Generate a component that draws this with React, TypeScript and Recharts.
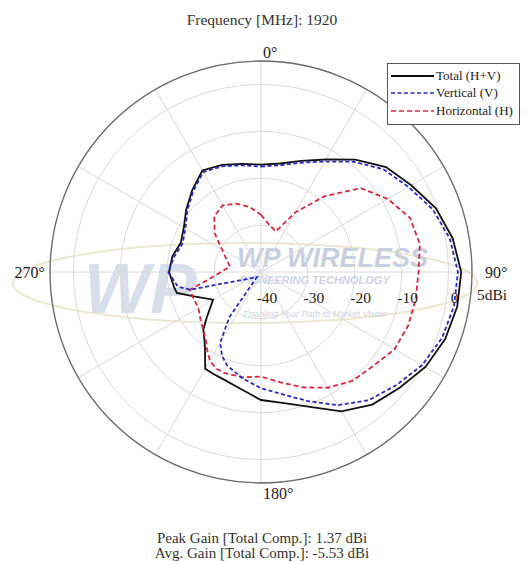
import React from "react";
import { Legend, PolarAngleAxis, PolarGrid, PolarRadiusAxis, Radar, RadarChart } from "recharts";

// angle in degrees, clockwise from top (0°)
const ANGLES = [0, 10, 20, 30, 40, 50, 60, 70, 80, 90, 100, 110, 120, 130, 140, 150, 160, 170, 180, 190, 200, 205, 210, 215, 219, 225, 230, 240, 250, 256, 260, 270, 280, 290, 300, 310, 320, 330, 340, 350];

// gain in dBi
const TOTAL = [-17.1, -16.5, -14.8, -12.3, -8.7, -5.2, -3.0, -0.3, 1.5, 2.7, 2.5, 1.8, 0.5, -1.5, -3.1, -5.7, -9.4, -11.6, -12.7, -14.7, -15.8, -16.0, -16.2, -19.2, -20.9, -22.6, -24.9, -28.2, -24.8, -21.5, -21.2, -20.4, -20.8, -21.8, -21.0, -19.2, -17.2, -15.0, -15.7, -16.6];
const VERTICAL = [-17.5, -16.9, -15.2, -12.8, -9.3, -5.9, -3.7, -1.0, 0.9, 2.0, 1.8, 1.1, -0.3, -2.4, -4.3, -7.2, -10.7, -13.5, -15.2, -17.0, -18.8, -20.3, -22.6, -28.2, -38.6, -38.4, -38.2, -37.3, -34.4, -24.4, -22.0, -20.2, -21.2, -22.2, -21.4, -19.5, -17.5, -15.4, -16.0, -16.9];
const HORIZONTAL = [-27.8, -29.8, -30.8, -25.3, -18.9, -12.2, -8.8, -6.2, -5.6, -6.4, -6.5, -6.6, -7.1, -8.8, -9.7, -11.5, -13.8, -16.1, -17.7, -17.2, -17.1, -17.3, -18.2, -19.9, -21.3, -22.6, -23.3, -24.6, -24.5, -24.4, -27.6, -31.5, -33.3, -32.2, -30.4, -27.1, -24.5, -23.6, -24.5, -25.9];

const RADIUS_TICKS = [-40, -30, -20, -10, 0, 5];
const ANGLE_TICKS = [0, 90, 180, 270];
const SPOKES = [0, 30, 60, 90, 120, 150, 180, 210, 240, 270, 300, 330];

const data = ANGLES.map((angle, i) => ({
  angle,
  total: TOTAL[i],
  vertical: VERTICAL[i],
  horizontal: HORIZONTAL[i],
}));

const series = [
  { key: "total", name: "Total (H+V)", color: "#111111", dash: undefined },
  { key: "vertical", name: "Vertical (V)", color: "#2a2ac0", dash: "4 2.5" },
  { key: "horizontal", name: "Horizontal (H)", color: "#d9283c", dash: "5 3" },
];

const FONT = '"Liberation Serif", "Times New Roman", serif';
const SANS = '"Liberation Sans", Arial, sans-serif';
const CX = 261;
const CY = 272;

function AngleTick(props: any) {
  const { x, y, payload } = props;
  const v = payload.value;
  const pos: Record<number, { dx: number; dy: number; anchor: string }> = {
    0: { dx: 2, dy: 5, anchor: "start" },
    90: { dx: 5, dy: 6, anchor: "start" },
    180: { dx: 2, dy: 8, anchor: "start" },
    270: { dx: 3, dy: 6, anchor: "end" },
  };
  const p = pos[v] ?? { dx: 0, dy: 0, anchor: "middle" };
  return (
    <text x={x + p.dx} y={y + p.dy} textAnchor={p.anchor} fontFamily={FONT} fontSize={16} fill="#222">
      {v}°
    </text>
  );
}

function RadiusTick(props: any) {
  const { x, y, payload } = props;
  const v = payload.value;
  if (v === 5) {
    return (
      <text x={x + 5} y={y + 28} textAnchor="start" fontFamily={FONT} fontSize={15.5} fill="#222">
        5dBi
      </text>
    );
  }
  return (
    <text x={x + 6} y={y + 31} textAnchor="middle" fontFamily={FONT} fontSize={15.5} fill="#222">
      {v}
    </text>
  );
}

function LegendBox() {
  return (
    <div
      style={{
        width: 133,
        height: 62,
        border: "1px solid #555",
        background: "#fff",
        fontFamily: FONT,
        fontSize: 13,
        color: "#222",
        boxSizing: "border-box",
        paddingTop: 3,
      }}
    >
      {series.map((s) => (
        <div key={s.key} style={{ display: "flex", alignItems: "center", height: 17.5 }}>
          <svg width={46} height={10} style={{ marginLeft: 2 }}>
            <line x1={1} y1={5} x2={44} y2={5} stroke={s.color} strokeWidth={s.dash ? 1.4 : 1.8} strokeDasharray={s.dash} />
          </svg>
          <span>{s.name}</span>
        </div>
      ))}
    </div>
  );
}

function Watermark() {
  return (
    <svg width={531} height={562} style={{ position: "absolute", left: 0, top: 0 }}>
      <ellipse cx={245} cy={283} rx={232} ry={40} fill="none" stroke="#eee8d2" strokeWidth={2} />
      <text x={84} y={313} fontFamily={SANS} fontWeight="bold" fontStyle="italic" fontSize={70} fill="#d8dfeb">
        WP
      </text>
      <text x={237} y={267} fontFamily={SANS} fontWeight="bold" fontStyle="italic" fontSize={27} fill="#c8d0e0">
        WP WIRELESS
      </text>
      <text x={240} y={284} fontFamily={SANS} fontWeight="bold" fontStyle="italic" fontSize={11} fill="#cdd4e2">
        PIONEERING TECHNOLOGY
      </text>
      <text x={243} y={317} fontFamily={SANS} fontStyle="italic" fontSize={9} fill="#cdd4e2">
        Enabling Your Path to Market Vision
      </text>
    </svg>
  );
}

export default function App() {
  return (
    <div style={{ position: "absolute", left: 0, top: 0, width: 531, height: 562, background: "#fff", overflow: "hidden" }}>
      <Watermark />
      <div style={{ position: "absolute", left: 0, top: 0 }}>
        <RadarChart width={531} height={562} data={data} cx={CX} cy={CY} outerRadius={211} margin={{ top: 0, right: 0, bottom: 0, left: 0 }}>
          <PolarGrid gridType="circle" polarAngles={SPOKES} stroke="#dadada" strokeWidth={1} />
          <PolarAngleAxis
            dataKey="angle"
            type="number"
            domain={[0, 360]}
            ticks={ANGLE_TICKS}
            axisLineType="circle"
            axisLine={{ stroke: "#6a6a6a", strokeWidth: 1.3 }}
            tickLine={false}
            tick={AngleTick}
          />
          <PolarRadiusAxis angle={0} domain={[-40, 5]} ticks={RADIUS_TICKS} axisLine={false} tick={RadiusTick} />
          <Radar dataKey="total" name="Total (H+V)" stroke="#111111" strokeWidth={1.8} fill="none" fillOpacity={0} dot={false} isAnimationActive={false} />
          <Radar dataKey="horizontal" name="Horizontal (H)" stroke="#d9283c" strokeWidth={1.8} strokeDasharray="5 3" fill="none" fillOpacity={0} dot={false} isAnimationActive={false} />
          <Radar dataKey="vertical" name="Vertical (V)" stroke="#2a2ac0" strokeWidth={1.8} strokeDasharray="4 2.5" fill="none" fillOpacity={0} dot={false} isAnimationActive={false} />
          <Legend content={() => <LegendBox />} wrapperStyle={{ position: "absolute", left: 387, top: 63, width: 133, height: 62 }} />
        </RadarChart>
      </div>
      <div style={{ position: "absolute", left: 0, top: 11, width: 524, textAlign: "center", fontFamily: FONT, fontSize: 15.5, color: "#333" }}>
        Frequency [MHz]: 1920
      </div>
      <div style={{ position: "absolute", left: 0, top: 531, width: 524, textAlign: "center", fontFamily: FONT, fontSize: 15, lineHeight: "15px", color: "#333" }}>
        <div>Peak Gain [Total Comp.]: 1.37 dBi</div>
        <div>Avg. Gain [Total Comp.]: -5.53 dBi</div>
      </div>
    </div>
  );
}
